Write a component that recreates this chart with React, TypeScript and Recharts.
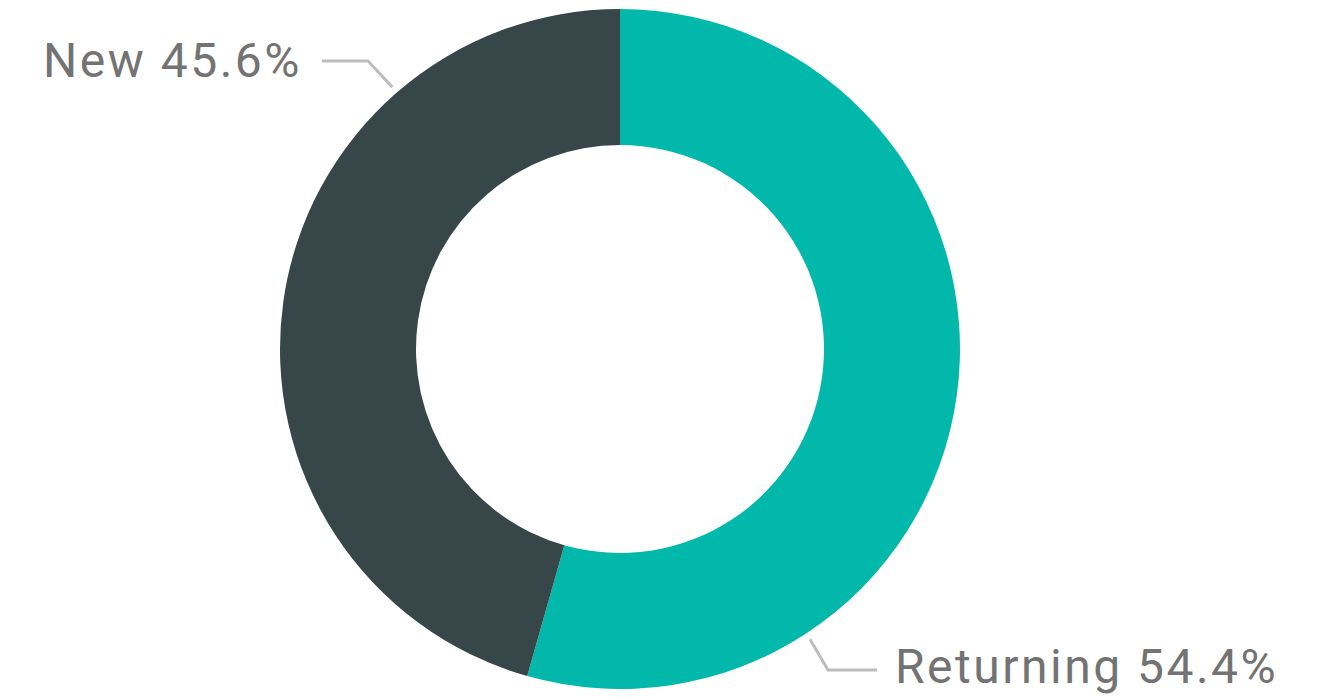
import { PieChart, Pie, Cell } from 'recharts';

const categories = ['Returning', 'New'];
const shares = [54.4, 45.6];
const colors = ['#01B8AA', '#374649'];

// label leader geometry, per slice index
const labelGeo = [
  { angle: -56.8, elbow: [828, 670], end: [877, 670], textX: 895, baseline: 683, anchor: 'start' },
  { angle: 131, elbow: [368, 61], end: [322, 61], textX: 302, baseline: 77, anchor: 'end' },
];

const RADIAN = Math.PI / 180;

export default function App() {
  const data = categories.map((name, i) => ({ name, value: shares[i] }));

  const renderLabel = (props: any) => {
    const { cx, cy, outerRadius, index } = props;
    const g = labelGeo[index];
    const r = outerRadius + 7;
    const sx = cx + r * Math.cos(-g.angle * RADIAN);
    const sy = cy + r * Math.sin(-g.angle * RADIAN);
    return (
      <g>
        <polyline
          points={`${sx},${sy} ${g.elbow[0]},${g.elbow[1]} ${g.end[0]},${g.end[1]}`}
          fill="none"
          stroke="#BDBDBD"
          strokeWidth={3}
        />
        <text
          x={g.textX}
          y={g.baseline}
          textAnchor={g.anchor}
          fill="#737373"
          fontSize={48}
          fontFamily="Roboto, sans-serif"
          letterSpacing={2.5}
        >
          {`${data[index].name} ${data[index].value}%`}
        </text>
      </g>
    );
  };

  return (
    <div style={{ position: 'absolute', left: 0, top: 0, width: 1322, height: 699, background: '#fff' }}>
      <PieChart width={1322} height={699} margin={{ top: 0, right: 0, bottom: 0, left: 0 }}>
        <Pie
          data={data}
          dataKey="value"
          nameKey="name"
          cx={620}
          cy={349}
          innerRadius={204}
          outerRadius={340}
          startAngle={90}
          endAngle={-270}
          stroke="none"
          label={renderLabel}
          labelLine={false}
          isAnimationActive={false}
        >
          {data.map((d, i) => (
            <Cell key={d.name} fill={colors[i]} />
          ))}
        </Pie>
      </PieChart>
    </div>
  );
}
